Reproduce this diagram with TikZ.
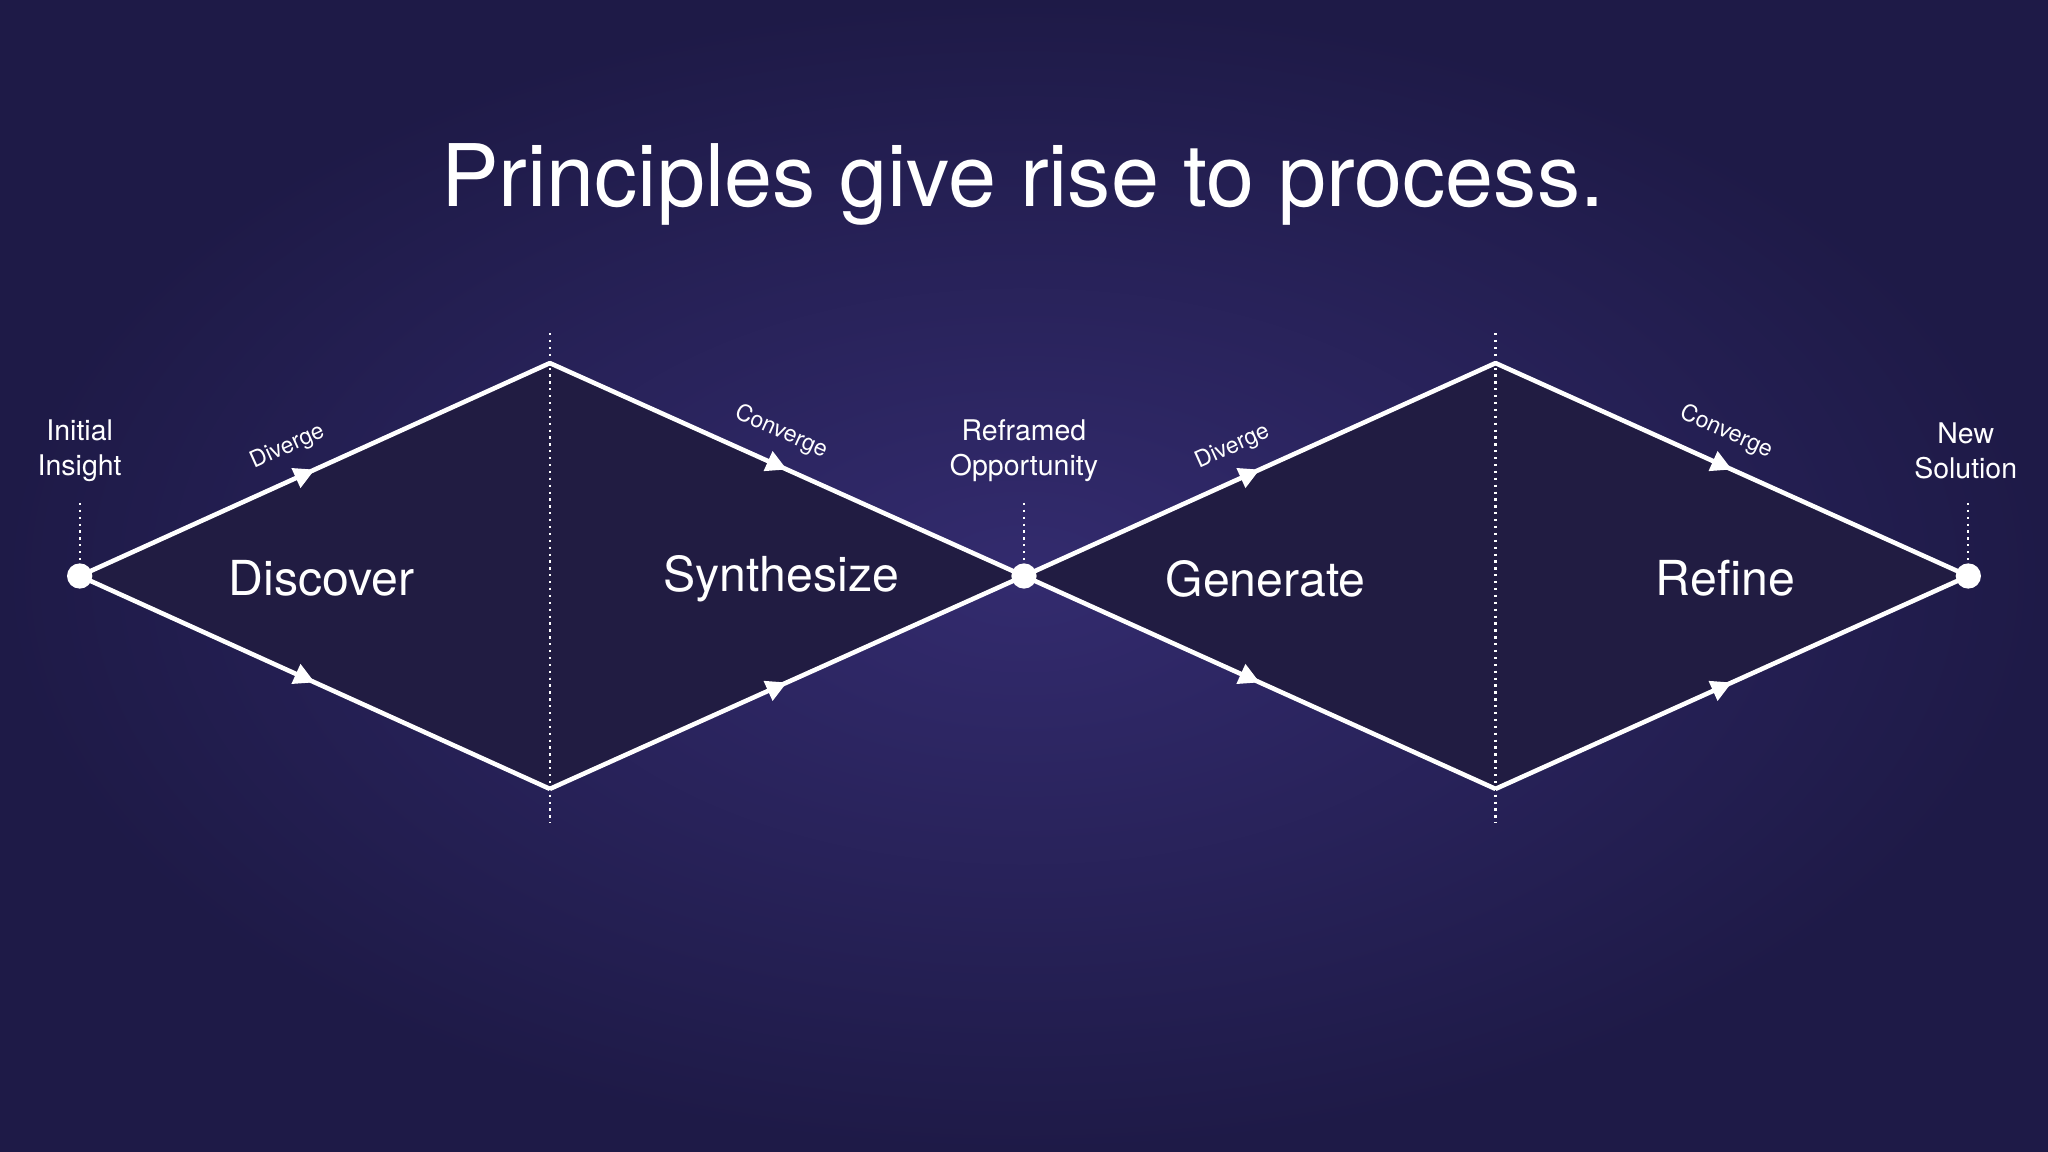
\documentclass[tikz,border=0pt]{standalone}
\usepackage{fontspec}
\setmainfont{TeX Gyre Heros}
\usetikzlibrary{decorations.markings,arrows.meta}
\definecolor{bgc}{HTML}{1E1A47}
\definecolor{bgm}{HTML}{332B6E}
\definecolor{dia}{HTML}{211C42}
\tikzset{
 flow/.style={white,line width=1pt,postaction={decorate},decoration={markings,mark=at position 0.5 with {\arrow{Triangle[length=4.5pt,width=4.5pt]}}}},
 guide/.style={white,densely dotted,line width=0.5pt},
 big/.style={white,font=\fontsize{10.5pt}{12pt}\selectfont},
 small/.style={white,font=\fontsize{6.2pt}{7.6pt}\selectfont,align=center},
 tiny/.style={white,font=\fontsize{5pt}{6pt}\selectfont,sloped},
 dot/.style={circle,fill=white,inner sep=0pt,minimum size=5.5pt}
}
\begin{document}
\begin{tikzpicture}[x=0.01cm,y=-0.01cm]
\useasboundingbox (0,0) rectangle (1568,882);
\shade[inner color=bgm,outer color=bgc] (0,0) rectangle (1568,882);
\node[white,font=\fontsize{18.8pt}{22pt}\selectfont] (title) at (783,141) {Principles give rise to process.};
\coordinate (a) at (61,441);
\coordinate (t1) at (421,278);
\coordinate (b1) at (421,604);
\coordinate (m) at (784,441);
\coordinate (t2) at (1145,278);
\coordinate (b2) at (1145,604);
\coordinate (e) at (1507,441);
\fill[dia] (a)--(t1)--(m)--(b1)--cycle;
\fill[dia] (m)--(t2)--(e)--(b2)--cycle;
\draw[guide] (421,255)--(421,630);
\draw[guide] (1145,255)--(1145,630);
\draw[guide] (61,385)--(61,430);
\draw[guide] (784,385)--(784,430);
\draw[guide] (1507,385)--(1507,430);
\draw[flow] (a)--(t1);
\draw[flow] (a)--(b1);
\draw[flow] (t1)--(m);
\draw[flow] (b1)--(m);
\draw[flow] (m)--(t2);
\draw[flow] (m)--(b2);
\draw[flow] (t2)--(e);
\draw[flow] (b2)--(e);
\node[dot] (na) at (a) {};
\node[dot] (nm) at (m) {};
\node[dot] (ne) at (e) {};
\path (a)--(t1) node[tiny,pos=0.47,above=1pt] (d1) {Diverge};
\path (t1)--(m) node[tiny,pos=0.46,above=1pt] (c1) {Converge};
\path (m)--(t2) node[tiny,pos=0.47,above=1pt] (d2) {Diverge};
\path (t2)--(e) node[tiny,pos=0.46,above=1pt] (c2) {Converge};
\node[big] (l1) at (246,443) {Discover};
\node[big] (l2) at (598,443) {Synthesize};
\node[big] (l3) at (969,443) {Generate};
\node[big] (l4) at (1321,443) {Refine};
\node[small] (s1) at (61,345) {Initial\\Insight};
\node[small] (s2) at (784,345) {Reframed\\Opportunity};
\node[small] (s3) at (1505,345) {New\\Solution};
\end{tikzpicture}
\end{document}
